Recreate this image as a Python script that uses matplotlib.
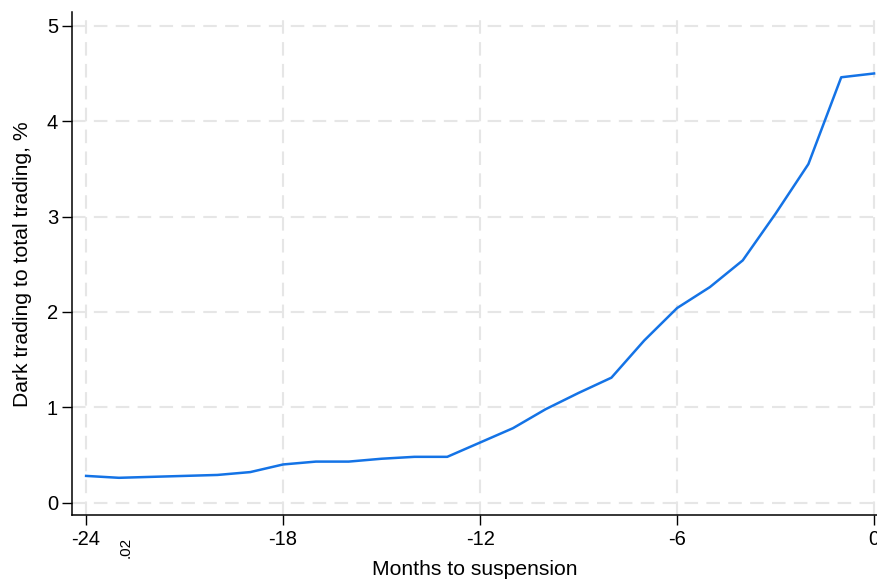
import matplotlib.pyplot as plt
import numpy as np

plt.rcParams['font.family'] = ['Liberation Sans', 'DejaVu Sans']

# months before suspension and dark trading share (%)
months = np.arange(-24, 1)
dark_share = [0.28, 0.26, 0.27, 0.28, 0.29, 0.32, 0.40, 0.43, 0.43, 0.46,
              0.48, 0.48, 0.63, 0.78, 0.98, 1.15, 1.31, 1.70, 2.04, 2.26,
              2.54, 3.03, 3.55, 4.46, 4.50]

xticks = [-24, -18, -12, -6, 0]
yticks = [0, 1, 2, 3, 4, 5]

fig = plt.figure(figsize=(8.78, 5.81), dpi=100)
ax = fig.add_axes([0.082, 0.1136, 0.918, 0.865])

ax.plot(months, dark_share, color='#1473e6', lw=1.8, zorder=3)

ax.set_xlim(-24.43, 0.12)
ax.set_ylim(-0.13, 5.14)
ax.set_xticks(xticks)
ax.set_yticks(yticks)
ax.set_xticklabels([str(t) for t in xticks])
ax.tick_params(labelsize=14.5, length=7, width=1, direction='out', colors='black')
ax.tick_params(axis='x', pad=4)
ax.tick_params(axis='y', pad=3)

ax.grid(True, color='#e6e6e6', lw=1.5, ls=(0, (6.5, 4)), zorder=0)
for s in ['top', 'right']:
    ax.spines[s].set_visible(False)
for s in ['left', 'bottom']:
    ax.spines[s].set_linewidth(1.1)

ax.set_xlabel('Months to suspension', fontsize=15.2, labelpad=8)
ax.set_ylabel('Dark trading to total trading, %', fontsize=15.2, labelpad=11)

fig.text(0.143, 0.058, '.02', rotation=90, fontsize=11, ha='center', va='center')

fig.savefig('out.png', dpi=100)
